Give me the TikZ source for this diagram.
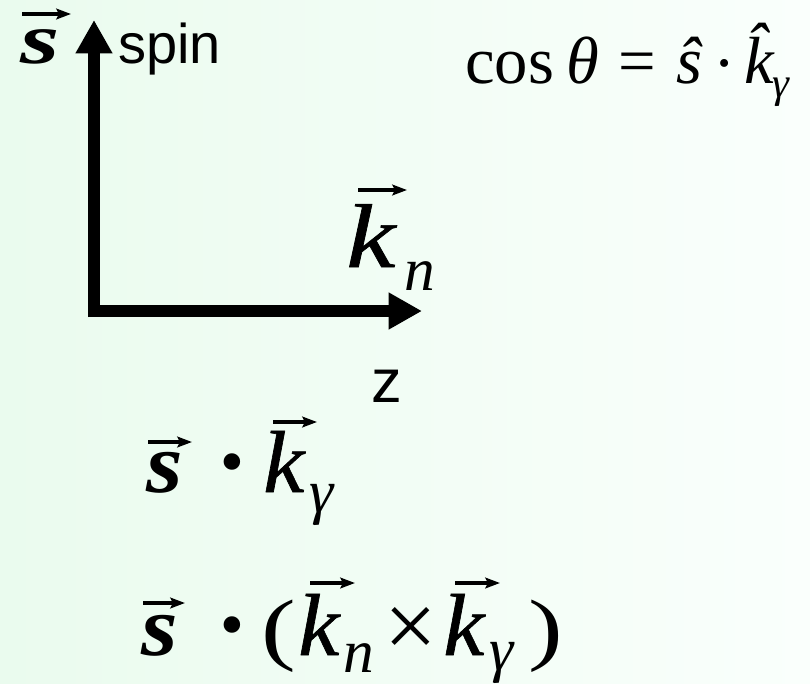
\documentclass[tikz,border=0pt]{standalone}
\usepackage{fontspec}
\setmainfont{Liberation Serif}
\newfontfamily\arialfont{Liberation Sans}
\newfontfamily\medfam{Liberation Serif}[FakeBold=0.7]
\usetikzlibrary{arrows.meta}
\definecolor{bgleft}{RGB}{234,251,238}
\definecolor{bgright}{RGB}{250,255,252}
\tikzset{
  axisarrow/.style={line width=9pt, -{Triangle[length=25pt,width=26pt]}},
  vecarr/.style={line width=2.3pt, -{Stealth[length=11pt,width=8pt,inset=2pt]}},
  lbl/.style={inner sep=0pt, anchor=base west},
  cen/.style={inner sep=0pt, anchor=base},
  bigbold/.style={font=\fontsize{64}{64}\selectfont\bfseries\itshape},
  bigk/.style={font=\medfam\fontsize{66}{66}\selectfont\itshape},
  bigup/.style={font=\fontsize{60}{60}\selectfont},
  bigdot/.style={font=\fontsize{76}{76}\selectfont\bfseries},
  sub/.style={font=\fontsize{46}{46}\selectfont\itshape},
  mid/.style={font=\fontsize{50}{50}\selectfont},
  midit/.style={font=\fontsize{50}{50}\selectfont\itshape},
  midsub/.style={font=\fontsize{32}{32}\selectfont\itshape},
  sans/.style={font=\arialfont\fontsize{46}{46}\selectfont},
}
\begin{document}
\begin{tikzpicture}[x=0.75pt,y=-0.75pt]
\shade[left color=bgleft,right color=bgright] (0,0) rectangle (810,683);
\useasboundingbox (0,0) rectangle (810,683);

% axes
\coordinate (vbot) at (94,317);
\coordinate (vtop) at (94,20);
\coordinate (hleft) at (88,311);
\coordinate (hright) at (422,311);
\draw[axisarrow] (vbot) -- (vtop);
\draw[axisarrow] (hleft) -- (hright);

% top-left s with arrow
\node[lbl, font=\fontsize{54}{54}\selectfont\bfseries\itshape] (s1) at (20,63) {\scalebox{1.4}[1]{s}};
\coordinate (a1l) at (22,14); \coordinate (a1r) at (71,14);
\draw[vecarr] (a1l) -- (a1r);
\node[lbl, font=\arialfont\fontsize{42}{42}\selectfont] (spin) at (118,63) {spin};

% cos formula
\node[lbl, mid] (cos) at (465,83) {cos};
\node[lbl, midit] (theta) at (566,83) {θ};
\node[lbl, mid] (eq) at (618,83) {=};
\node[lbl, midit] (shat) at (676,83) {ŝ};
\node[cen, mid] (dot0) at (725,85) {·};
\node[lbl, midit] (khat) at (744,83) {\^{k}};
\node[lbl, midsub] (g0) at (772,97) {γ};

% k_n
\node[lbl, font=\medfam\fontsize{68}{68}\selectfont\itshape] (kn) at (346,267) {\scalebox{1.22}[1]{k}};
\node[lbl, sub] (n1) at (404,290) {n};
\coordinate (a2l) at (358,190); \coordinate (a2r) at (407,190);
\draw[vecarr] (a2l) -- (a2r);
\node[lbl, sans] (z) at (371,402) {z};

% s . k_gamma
\node[lbl, bigbold] (s2) at (146,492) {\scalebox{1.1}[1]{s}};
\coordinate (a3l) at (148,442); \coordinate (a3r) at (192,442);
\draw[vecarr] (a3l) -- (a3r);
\node[cen, bigdot] (dot2) at (232,495) {·};
\node[lbl, bigk] (k2) at (263,492) {\scalebox{1.05}[1]{k}};
\coordinate (a4l) at (273,422); \coordinate (a4r) at (317,422);
\draw[vecarr] (a4l) -- (a4r);
\node[lbl, sub] (g2) at (309,512) {γ};

% s . (k_n x k_gamma)
\node[lbl, bigbold] (s3) at (141,655) {\scalebox{1.1}[1]{s}};
\coordinate (a5l) at (143,603); \coordinate (a5r) at (185,603);
\draw[vecarr] (a5l) -- (a5r);
\node[cen, bigdot] (dot3) at (232,658) {·};
\node[lbl, bigup] (lp) at (261,655) {\scalebox{1.3}[1]{(}};
\node[lbl, bigk] (k3) at (298,655) {\scalebox{1.05}[1]{k}};
\coordinate (a6l) at (310,583); \coordinate (a6r) at (355,583);
\draw[vecarr] (a6l) -- (a6r);
\node[lbl, sub] (n3) at (343,672) {n};
\node[cen, font=\fontsize{70}{70}\selectfont] (times) at (411,657) {×};
\node[lbl, bigk] (k4) at (443,655) {\scalebox{1.05}[1]{k}};
\coordinate (a7l) at (455,583); \coordinate (a7r) at (500,583);
\draw[vecarr] (a7l) -- (a7r);
\node[lbl, sub] (g4) at (489,670) {γ};
\node[lbl, bigup] (rp) at (528,655) {\scalebox{1.3}[1]{)}};
\end{tikzpicture}
\end{document}
